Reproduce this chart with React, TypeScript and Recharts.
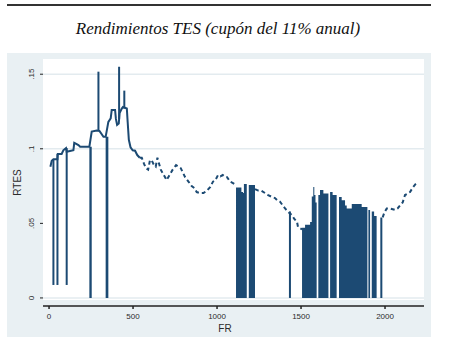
import React from 'react';
import { ComposedChart, Line, Area, XAxis, YAxis, CartesianGrid, ReferenceLine } from 'recharts';

const NAVY = '#1c4a73';
const INK = '#2b2b2b';

// axis ticks
const FR_TICKS = [0, 500, 1000, 1500, 2000];
const RTES_TICKS = [0, 0.05, 0.1, 0.15];
const RTES_TICK_LABELS = ['0', '.05', '.1', '.15'];
const GRID_VALUES = [0, 0.1, 0.15];

// [FR, RTES] - first stretch (solid, step-like)
const EARLY: [number, number][] = [
  [8, 0.088], [16, 0.092], [26, 0.093], [50, 0.093], [52, 0.0965], [75, 0.0965],
  [85, 0.099], [101, 0.1005], [105, 0.098], [145, 0.099], [150, 0.104], [175, 0.1025],
  [185, 0.1014], [240, 0.1014], [254, 0.1115], [284, 0.1122], [300, 0.112], [324, 0.108],
  [337, 0.108], [353, 0.118], [367, 0.1204], [373, 0.126], [393, 0.126], [398, 0.12],
  [405, 0.116], [415, 0.117], [420, 0.124], [433, 0.127], [440, 0.128], [463, 0.127],
  [468, 0.118], [475, 0.106], [485, 0.101], [498, 0.099], [512, 0.0987], [525, 0.0958],
  [540, 0.094],
];

// [FR, RTES] - broken stretches
const DASH_A: [number, number][] = [
  [540, 0.094], [552, 0.094], [565, 0.09], [577, 0.087], [590, 0.086], [601, 0.0925],
  [612, 0.092], [625, 0.089], [635, 0.088], [645, 0.094], [655, 0.09], [665, 0.086],
  [680, 0.083], [700, 0.079], [715, 0.082], [736, 0.086], [756, 0.089], [770, 0.088],
  [784, 0.087], [797, 0.084], [810, 0.081], [830, 0.078], [849, 0.075], [865, 0.0737],
  [879, 0.071], [899, 0.0703], [919, 0.0703], [940, 0.072], [960, 0.0745], [976, 0.078],
  [990, 0.079], [1006, 0.0824], [1020, 0.0815], [1034, 0.0824], [1050, 0.081], [1060, 0.081],
  [1077, 0.078], [1095, 0.077], [1113, 0.0757],
];
const DASH_B: [number, number][] = [
  [1226, 0.073], [1245, 0.072], [1262, 0.072], [1286, 0.0703], [1304, 0.069], [1327, 0.0677],
  [1345, 0.067], [1357, 0.0657], [1375, 0.0645], [1405, 0.06], [1423, 0.0577], [1446, 0.0556],
  [1460, 0.053], [1476, 0.051], [1482, 0.0476], [1506, 0.046],
];
const DASH_C: [number, number][] = [
  [1986, 0.054], [1995, 0.057], [2010, 0.06], [2030, 0.06], [2060, 0.059], [2075, 0.06],
  [2089, 0.062], [2105, 0.064], [2119, 0.069], [2135, 0.07], [2149, 0.071], [2165, 0.074],
  [2179, 0.076], [2188, 0.077],
];

// [FR, RTES] - runs of zero observations, drawn as filled steps (null = break)
const BLOCKS: [number, number | null][] = [
  [240, 0.1014], [254, 0.1014], [255, null],
  [337, 0.108], [353, 0.108], [354, null],
  [1113, 0.074], [1135, 0.074], [1145, 0.071], [1155, 0.0703], [1160, 0.0764], [1177, 0.0764], [1178, null],
  [1189, 0.0757], [1226, 0.0757], [1227, null],
  [1506, 0.047], [1524, 0.049], [1554, 0.051], [1564, 0.068], [1573, 0.0744], [1579, 0.069], [1586, 0.064], [1593, 0.064], [1594, null],
  [1603, 0.069], [1613, 0.0724], [1633, 0.07], [1663, 0.0677], [1664, null],
  [1673, 0.071], [1688, 0.069], [1712, 0.0677], [1713, null],
  [1726, 0.0677], [1742, 0.0655], [1762, 0.062], [1772, 0.06], [1802, 0.063], [1861, 0.061], [1895, 0.061], [1896, null],
  [1901, 0.059], [1911, 0.059], [1912, null],
  [1921, 0.058], [1935, 0.055], [1950, 0.055], [1951, null],
  [1972, 0.054], [1984, 0.054], [1985, null],
];

// [FR, from, to] - single drops and spikes
const SINGLES: [number, number, number][] = [
  [26, 0.0087, 0.093], [50, 0.0087, 0.0965], [105, 0.0087, 0.1005], [1434, 0, 0.058],
  [294, 0.112, 0.1517], [417, 0.12, 0.155], [448, 0.127, 0.139],
];

type Row = { fr: number; [k: string]: number | null };

const buildRows = () => {
  const byFr = new Map<number, Row>();
  const put = (key: string, pts: [number, number | null][]) =>
    pts.forEach(([fr, v]) => {
      const r = byFr.get(fr) ?? { fr };
      r[key] = v;
      byFr.set(fr, r);
    });
  put('early', EARLY);
  put('dashA', DASH_A);
  put('dashB', DASH_B);
  put('dashC', DASH_C);
  put('blk', BLOCKS);
  return [...byFr.values()].sort((a, b) => a.fr - b.fr);
};

const data = buildRows();

const YTick = (props: any) => {
  const { x, y, payload } = props;
  const i = RTES_TICKS.indexOf(payload.value);
  const tx = x - 4;
  return (
    <text x={tx} y={y} transform={`rotate(-90, ${tx}, ${y})`} textAnchor="middle"
      fontSize={8} fill={INK} fontFamily="Liberation Sans, Arial, sans-serif">
      {RTES_TICK_LABELS[i]}
    </text>
  );
};

const yTitle = (props: any) => {
  const { viewBox } = props;
  const cy = viewBox.y + viewBox.height / 2;
  return (
    <text x={21} y={cy} transform={`rotate(-90, 21, ${cy})`} textAnchor="middle"
      fontSize={10} fill={INK} fontFamily="Liberation Sans, Arial, sans-serif">RTES</text>
  );
};

const xTitle = (props: any) => {
  const { viewBox } = props;
  return (
    <text x={225} y={viewBox.y + 26} textAnchor="middle"
      fontSize={10} fill={INK} fontFamily="Liberation Sans, Arial, sans-serif">FR</text>
  );
};

export default function App() {
  return (
    <div style={{ position: 'absolute', left: 0, top: 0, width: 450, height: 343, background: '#fff' }}>
      <div style={{ position: 'absolute', left: 7, top: 4, width: 424, height: 2, background: '#333' }} />
      <div style={{
        position: 'absolute', left: 0, top: 19, width: 436, textAlign: 'center',
        fontFamily: 'Liberation Serif, serif', fontStyle: 'italic', fontSize: 17, color: '#111',
      }}>
        Rendimientos TES (cupón del 11% anual)
      </div>
      <div style={{ position: 'absolute', left: 7, top: 53, width: 424, height: 284, background: '#e9f0f3' }} />
      <div style={{ position: 'absolute', left: 43, top: 59, width: 381, height: 241, background: '#fff' }} />
      <div style={{ position: 'absolute', left: 0, top: 0 }}>
        <ComposedChart width={450} height={343} data={data}
          margin={{ top: 59, right: 26, bottom: 7, left: 8 }}>
          <CartesianGrid vertical={false} horizontalValues={GRID_VALUES} stroke="#e3ebef" strokeWidth={1.5} />
          <XAxis dataKey="fr" type="number" domain={[-36, 2232]} ticks={FR_TICKS} allowDataOverflow
            height={30} tickSize={3} tickMargin={4} stroke="#222" strokeWidth={1.5}
            tick={{ fontSize: 8, fill: INK, fontFamily: 'Liberation Sans, Arial, sans-serif' }}
            label={xTitle} />
          <YAxis type="number" domain={[-0.0054, 0.1602]} ticks={RTES_TICKS} allowDataOverflow
            width={35} axisLine={false} tickSize={3} tickLine={{ stroke: '#222' }}
            tick={<YTick />} label={yTitle} />
          <Area dataKey="blk" type="stepAfter" baseValue={0} connectNulls={false}
            stroke="none" fill={NAVY} fillOpacity={1} isAnimationActive={false} />
          <Line dataKey="early" type="linear" connectNulls stroke={NAVY} strokeWidth={2}
            dot={false} isAnimationActive={false} />
          <Line dataKey="dashA" type="linear" connectNulls stroke={NAVY} strokeWidth={2}
            strokeDasharray="4 3" dot={false} isAnimationActive={false} />
          <Line dataKey="dashB" type="linear" connectNulls stroke={NAVY} strokeWidth={2}
            strokeDasharray="4 3" dot={false} isAnimationActive={false} />
          <Line dataKey="dashC" type="linear" connectNulls stroke={NAVY} strokeWidth={2}
            strokeDasharray="4 3" dot={false} isAnimationActive={false} />
          {SINGLES.map(([fr, from, to]) => (
            <ReferenceLine key={`s-${fr}`} segment={[{ x: fr, y: from }, { x: fr, y: to }]}
              stroke={NAVY} strokeWidth={2} />
          ))}
        </ComposedChart>
      </div>
    </div>
  );
}
